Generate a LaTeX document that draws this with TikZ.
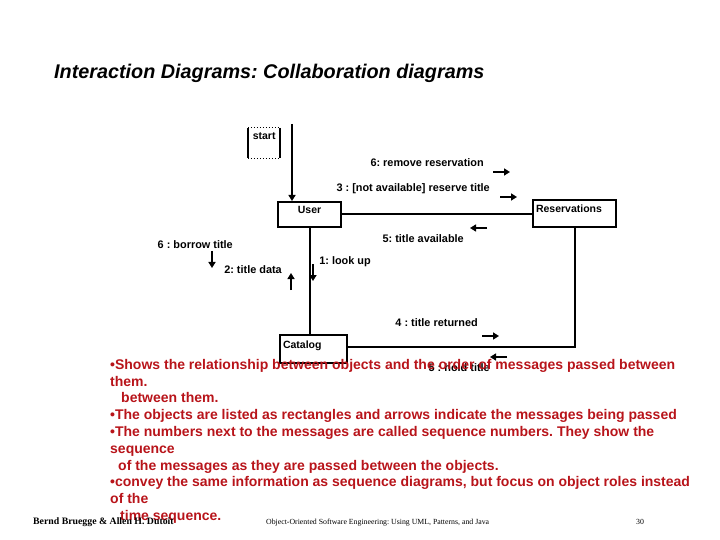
\documentclass[tikz,border=0pt]{standalone}
\usepackage{fontspec}
\setmainfont{Liberation Sans}
\newfontfamily\footfont{Liberation Serif}
\usepackage{xcolor}
\usetikzlibrary{arrows.meta,positioning}
\definecolor{bodyred}{HTML}{B8141A}
\tikzset{
  obj/.style={draw, line width=2bp, rectangle, inner sep=3bp, text height=9bp, text depth=10bp,
    font=\fontsize{10.5bp}{12bp}\selectfont\bfseries},
  lbl/.style={anchor=east, inner sep=0pt, font=\fontsize{10.9bp}{12bp}\selectfont\bfseries},
  link/.style={line width=2bp},
  arr/.style={line width=2bp, -{Triangle[length=6bp, width=7bp]}},
  msg/.style={line width=2bp, -{Triangle[length=6bp, width=7bp]}},
  foot/.style={anchor=base west, inner sep=0pt, font=\footfont\fontsize{7.8bp}{9bp}\selectfont}
}

\begin{document}
\frenchspacing
\begin{tikzpicture}[x=1bp, y=-1bp]
\useasboundingbox (0,0) rectangle (720,540);

\node[anchor=base west, inner sep=0pt, font=\fontsize{19.8bp}{22bp}\selectfont\bfseries\itshape] (title) at (54,79) {Interaction Diagrams: Collaboration diagrams};

% objects
\node[anchor=north west, inner sep=2bp, font=\fontsize{10.5bp}{12bp}\selectfont\bfseries, minimum width=32bp, minimum height=30bp, align=left, text height=9bp, text depth=17bp] (start) at (248,128) {start};
\draw[line width=2bp] (start.north west) -- (start.south west) (start.north east) -- (start.south east);
\draw[dotted, line width=1bp] (start.north west) -- (start.north east) (start.south west) -- (start.south east);

\node[obj, anchor=north west, minimum width=63bp] (user) at (277,201) {User};
\node[obj, anchor=north west, minimum width=83bp, text width=77bp, align=left, minimum height=27bp] (res) at (532,199) {Reservations};
\node[obj, anchor=north west, minimum width=67bp, text width=61bp, align=left, minimum height=28bp, text height=8bp] (cat) at (279,334) {Catalog};

% links
\coordinate (entry) at (292,124);
\draw[arr] (entry) -- (entry |- user.north);
\draw[link] (user.east) -- (user.east -| res.west);
\draw[link] (user.south) -- (user.south |- cat.north);
\draw[link] (cat.east |- 0,347) -| (res.south);

% messages
\node[lbl] (m6r) at (484,163) {6: remove reservation};
\draw[msg] (493,172) -- (510,172);
\node[lbl] (m3) at (490,189) {3 : [not available] reserve title};
\draw[msg] (500,197) -- (517,197);
\draw[msg] (487,228) -- (470,228);
\node[lbl] (m5) at (464,239) {5: title available};
\node[lbl] (m6b) at (233,245) {6 : borrow title};
\draw[msg] (212,251) -- (212,268);
\node[lbl] (m2) at (282,270) {2: title data};
\draw[msg] (291,290) -- (291,273);
\node[lbl] (m1) at (371,262) {1: look up};
\draw[msg] (313,264) -- (313,281);
\node[lbl] (m4) at (478,323) {4 : title returned};
\draw[msg] (482,336) -- (499,336);
\draw[msg] (507,357) -- (490,357);
\node[lbl] (m5h) at (490,368) {5 : hold title};

% notes
\node[anchor=north west, inner sep=0pt, align=left, text=bodyred, font=\fontsize{14bp}{16.8bp}\selectfont\bfseries] (notes) at (110,359) {%
\textbullet Shows the relationship between objects and the order of messages passed between\\
them.\\
\hspace*{11bp}between them.\\
\textbullet The objects are listed as rectangles and arrows indicate the messages being passed\\
\textbullet The numbers next to the messages are called sequence numbers. They show the\\
sequence\\
\hspace*{8bp}of the messages as they are passed between the objects.\\
\textbullet convey the same information as sequence diagrams, but focus on object roles instead\\
of the\\
\hspace*{10bp}time sequence.};

% footer
\node[foot, font=\footfont\bfseries\fontsize{9.8bp}{11bp}\selectfont] (authors) at (33,524) {Bernd Bruegge \& Allen H. Dutoit};
\node[foot] (book) at (266,524) {Object-Oriented Software Engineering: Using UML, Patterns, and Java};
\node[foot] (page) at (636,524) {30};
\end{tikzpicture}
\end{document}
